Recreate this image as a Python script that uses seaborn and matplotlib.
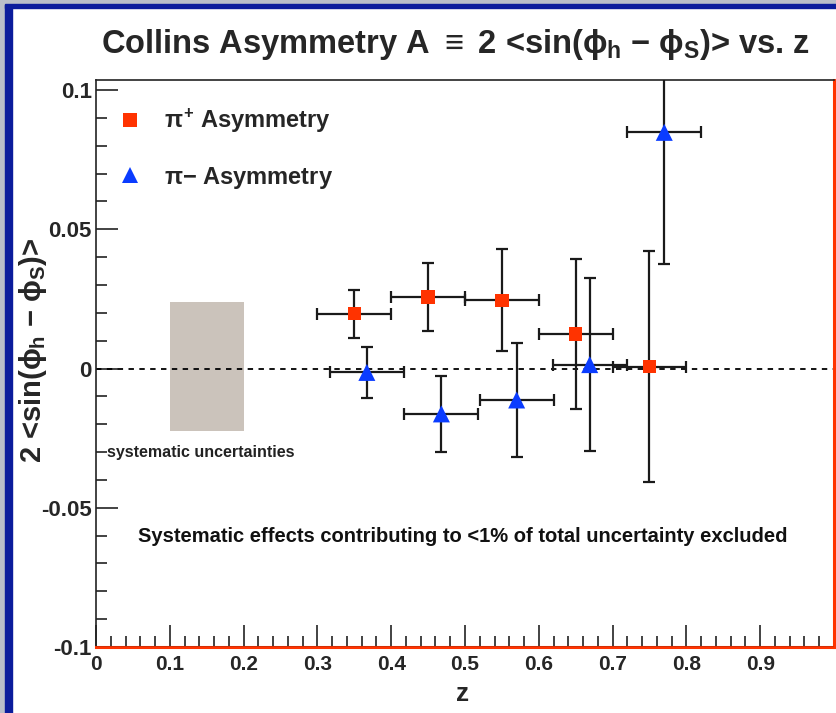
import numpy as np
import pandas as pd
import matplotlib
matplotlib.use("Agg")
import matplotlib.pyplot as plt
from matplotlib.lines import Line2D
from matplotlib.patches import Rectangle
from matplotlib.ticker import MultipleLocator, FixedLocator
import seaborn as sns

# Collins asymmetry vs z for pi+ and pi-
z_pip = [0.35, 0.45, 0.55, 0.65, 0.75]
a_pip = [0.0197, 0.0256, 0.0245, 0.0123, 0.0007]
ey_pip = [0.0086, 0.0122, 0.0183, 0.0269, 0.0414]
ex_pip = [0.05, 0.05, 0.05, 0.05, 0.05]

z_pim = [0.367, 0.468, 0.570, 0.669, 0.770]
a_pim = [-0.0014, -0.0163, -0.0113, 0.0014, 0.0848]
ey_pim = [0.0091, 0.0136, 0.0205, 0.0310, 0.0471]
ex_pim = [0.05, 0.05, 0.05, 0.05, 0.05]

# systematic uncertainty band (z range and asymmetry range)
sys_z = [0.1, 0.2]
sys_a = [-0.0226, 0.0238]

x_ticks = [0, 0.1, 0.2, 0.3, 0.4, 0.5, 0.6, 0.7, 0.8, 0.9]
x_tick_labels = ["0", "0.1", "0.2", "0.3", "0.4", "0.5", "0.6", "0.7", "0.8", "0.9"]
y_ticks = [-0.1, -0.05, 0, 0.05, 0.1]
y_tick_labels = ["-0.1", "-0.05", "0", "0.05", "0.1"]

RED = "#ff3300"
BLUE = "#0a3cff"
FONT = ["Liberation Sans", "DejaVu Sans"]

sns.set_theme(style="white")
plt.rcParams["font.family"] = FONT
plt.rcParams["font.weight"] = "bold"
plt.rcParams["mathtext.fontset"] = "custom"
plt.rcParams["mathtext.rm"] = "Liberation Sans:bold"
plt.rcParams["mathtext.it"] = "Liberation Sans:bold"
plt.rcParams["mathtext.bf"] = "Liberation Sans:bold"

W, H = 837, 713
fig = plt.figure(figsize=(W / 100, H / 100), dpi=100)
fig.patch.set_facecolor("white")

# canvas border
fig.add_artist(Rectangle((0, 0), 5 / W, 1, transform=fig.transFigure, color="#b9bec9", zorder=0))
fig.add_artist(Rectangle((5 / W, 0), 7 / W, 1, transform=fig.transFigure, color="#0b1c9c", zorder=0))
fig.add_artist(Rectangle((0, 1 - 4 / H), 1, 4 / H, transform=fig.transFigure, color="#b9bec9", zorder=0))
fig.add_artist(Rectangle((5 / W, 1 - 8 / H), 1, 4 / H, transform=fig.transFigure, color="#0b1c9c", zorder=0))

left, right, bottom, top = 96, 834, 647, 80
ax = fig.add_axes([left / W, 1 - bottom / H, (right - left) / W, (bottom - top) / H])
ax.set_facecolor("white")

# systematic band
ax.bar(np.mean(sys_z), sys_a[1] - sys_a[0], bottom=sys_a[0], width=sys_z[1] - sys_z[0],
       color="#cbc3bb", edgecolor="none", zorder=1)

ax.axhline(0, color="black", lw=1.3, ls=(0, (3, 3)), zorder=2)

# error bars
ax.errorbar(z_pip, a_pip, yerr=ey_pip, xerr=ex_pip, fmt="none", ecolor="#1a1a1a",
            elinewidth=1.6, capsize=4, capthick=1.6, zorder=3)
ax.errorbar(z_pim, a_pim, yerr=ey_pim, xerr=ex_pim, fmt="none", ecolor="#1a1a1a",
            elinewidth=1.6, capsize=4, capthick=1.6, zorder=3)

df_pip = pd.DataFrame({"z": z_pip, "A": a_pip})
df_pim = pd.DataFrame({"z": z_pim, "A": a_pim})
sns.scatterplot(data=df_pip, x="z", y="A", marker="s", s=95, color=RED, edgecolor="none",
                ax=ax, zorder=4, legend=False)
sns.scatterplot(data=df_pim, x="z", y="A", marker="^", s=150, color=BLUE, edgecolor="none",
                ax=ax, zorder=4, legend=False)

ax.set_xlim(0, 1.0)
ax.set_ylim(-0.1, 0.1036)

ax.xaxis.set_major_locator(FixedLocator(x_ticks))
ax.set_xticklabels(x_tick_labels)
ax.xaxis.set_minor_locator(MultipleLocator(0.02))
ax.yaxis.set_major_locator(FixedLocator(y_ticks))
ax.set_yticklabels(y_tick_labels)
ax.yaxis.set_minor_locator(MultipleLocator(0.01))
ax.tick_params(axis="both", which="major", direction="in", length=16, width=1.2,
               color="#222222", labelsize=16, pad=3, bottom=True, left=True)
ax.tick_params(axis="both", which="minor", direction="in", length=8, width=1.2,
               color="#222222", bottom=True, left=True)
ax.tick_params(axis="x", pad=6, labelsize=15)
for lab in ax.get_xticklabels() + ax.get_yticklabels():
    lab.set_fontweight("bold")
    lab.set_family(FONT)

for side in ["left", "top"]:
    ax.spines[side].set_color("#222222")
    ax.spines[side].set_linewidth(1.2)
for side in ["bottom", "right"]:
    ax.spines[side].set_color(RED)
    ax.spines[side].set_linewidth(2.2)
ax.axhline(-0.1, color="#222222", lw=1.0, zorder=5)

ax.set_xlabel("")
ax.set_ylabel("")

# legend
handles = [
    Line2D([], [], marker="s", ls="none", color=RED, markersize=9.5, markeredgewidth=0),
    Line2D([], [], marker="^", ls="none", color=BLUE, markersize=11, markeredgewidth=0),
]
ax.legend(handles, [r"$\pi^{+}$ Asymmetry", r"$\pi$$-$ Asymmetry"], loc="upper left",
          bbox_to_anchor=(-0.015, 0.99), frameon=False, labelspacing=1.25,
          handletextpad=0.45, prop={"family": FONT, "weight": "bold", "size": 17})

fig.text(455 / W, 1 - 45 / H, r"Collins Asymmetry A $\equiv$ 2 <sin($\phi_{h}$ $-$ $\phi_{S}$)> vs. z",
         ha="center", va="center", fontsize=23.5, fontweight="bold", family=FONT)
fig.text(33 / W, 1 - 350 / H, r"2 <sin($\phi_{h}$ $-$ $\phi_{S}$)>", rotation=90,
         ha="center", va="center", fontsize=21, fontweight="bold", family=FONT)
fig.text(463 / W, 1 - 694 / H, "z", ha="center", va="center", fontsize=19,
         fontweight="bold", family=FONT)
fig.text(107 / W, 1 - 453 / H, "systematic uncertainties", ha="left", va="center",
         fontsize=11.5, fontweight="bold", family=FONT, color="#222222")
fig.text(463 / W, 1 - 537 / H, "Systematic effects contributing to <1% of total uncertainty excluded",
         ha="center", va="center", fontsize=14.5, fontweight="bold", family=FONT, color="#111111")

fig.savefig("out.png", dpi=100)
